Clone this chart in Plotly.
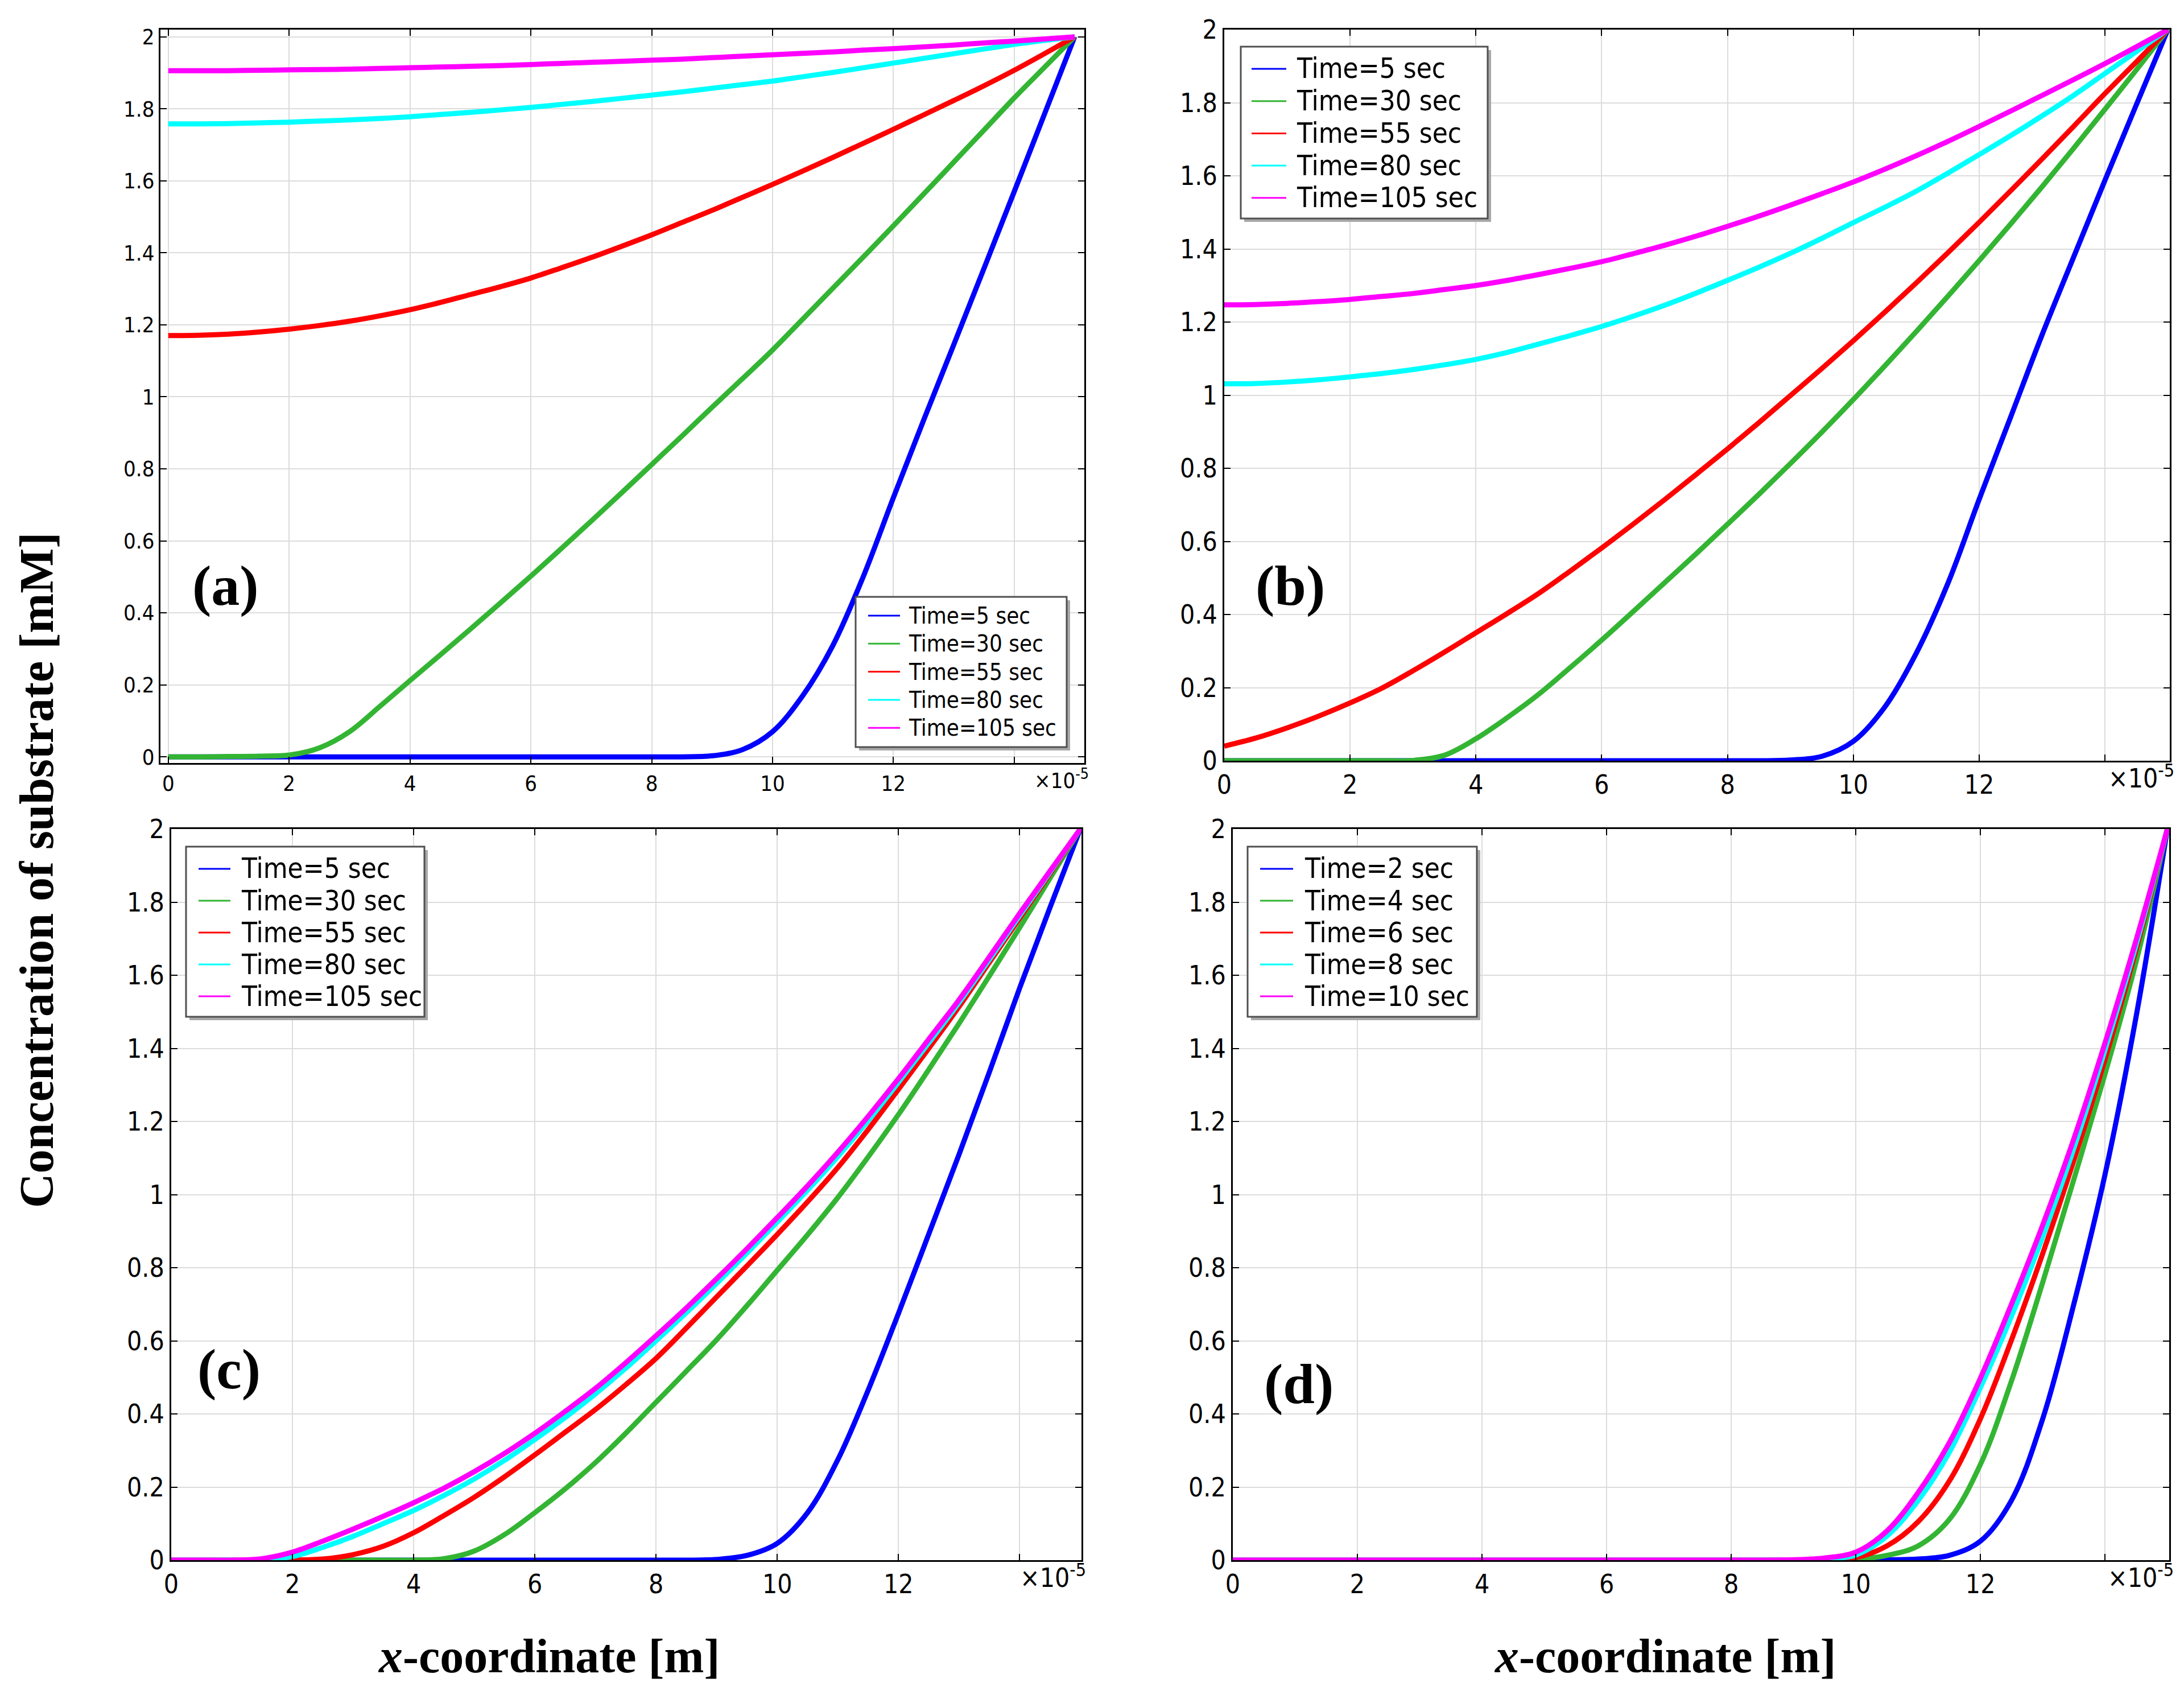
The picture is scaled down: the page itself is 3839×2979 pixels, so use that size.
import plotly.graph_objects as go

# x-coordinate in units of 1e-5 m
X = [0, 0.5, 1, 1.5, 2, 2.5, 3, 3.5, 4, 4.5, 5, 5.5, 6, 6.5, 7, 7.5,
     8, 8.5, 9, 9.5, 10, 10.5, 11, 11.5, 12, 12.5, 13, 13.5, 14, 14.5, 15]

# (a)
A_5 = [0, 0, 0, 0, 0, 0, 0, 0, 0, 0, 0, 0, 0, 0, 0, 0,
       0, 0, 0.003, 0.02, 0.07, 0.17, 0.31, 0.5, 0.72, 0.935, 1.145, 1.357, 1.57, 1.785, 2.0]
A_30 = [0, 0, 0.001, 0.002, 0.005, 0.025, 0.07, 0.14, 0.212, 0.283, 0.355, 0.428, 0.502, 0.578, 0.655, 0.733,
        0.812, 0.891, 0.971, 1.05, 1.13, 1.216, 1.302, 1.388, 1.475, 1.563, 1.652, 1.741, 1.83, 1.915, 2.0]
A_55 = [1.17, 1.171, 1.174, 1.18, 1.188, 1.198, 1.21, 1.225, 1.242, 1.262, 1.284, 1.306, 1.33, 1.358, 1.387, 1.418,
        1.45, 1.484, 1.518, 1.554, 1.59, 1.627, 1.665, 1.704, 1.743, 1.783, 1.823, 1.864, 1.907, 1.953, 2.0]
A_80 = [1.758, 1.758, 1.759, 1.761, 1.763, 1.766, 1.769, 1.773, 1.778, 1.784, 1.79, 1.797, 1.804, 1.812, 1.82, 1.829,
        1.838, 1.847, 1.857, 1.867, 1.877, 1.889, 1.901, 1.914, 1.927, 1.94, 1.953, 1.966, 1.979, 1.99, 2.0]
A_105 = [1.906, 1.906, 1.906, 1.907, 1.908, 1.909, 1.91, 1.912, 1.914, 1.916, 1.918, 1.92, 1.923, 1.926, 1.929, 1.932,
         1.935, 1.938, 1.942, 1.946, 1.95, 1.954, 1.958, 1.963, 1.967, 1.972, 1.977, 1.983, 1.988, 1.994, 2.0]

# (b)
B_5 = [0, 0, 0, 0, 0, 0, 0, 0, 0, 0, 0, 0, 0, 0, 0, 0,
       0, 0, 0.002, 0.012, 0.053, 0.147, 0.294, 0.484, 0.715, 0.94, 1.165, 1.377, 1.588, 1.795, 2.0]
B_30 = [0, 0, 0, 0, 0, 0, 0.001, 0.015, 0.06, 0.118, 0.182, 0.255, 0.33, 0.408, 0.487, 0.566,
        0.647, 0.729, 0.813, 0.899, 0.988, 1.08, 1.174, 1.27, 1.368, 1.468, 1.57, 1.675, 1.782, 1.89, 2.0]
B_55 = [0.04, 0.062, 0.09, 0.122, 0.158, 0.198, 0.246, 0.297, 0.35, 0.403, 0.458, 0.519, 0.582, 0.647, 0.714, 0.783,
        0.853, 0.925, 0.999, 1.073, 1.149, 1.227, 1.307, 1.389, 1.473, 1.559, 1.646, 1.735, 1.825, 1.912, 2.0]
B_80 = [1.031, 1.032, 1.036, 1.042, 1.05, 1.059, 1.07, 1.083, 1.098, 1.117, 1.14, 1.163, 1.188, 1.216, 1.246, 1.279,
        1.314, 1.35, 1.388, 1.429, 1.472, 1.514, 1.558, 1.607, 1.658, 1.71, 1.764, 1.82, 1.88, 1.94, 2.0]
B_105 = [1.247, 1.248, 1.251, 1.256, 1.262, 1.27, 1.278, 1.289, 1.3, 1.314, 1.33, 1.347, 1.365, 1.387, 1.41, 1.435,
         1.462, 1.49, 1.52, 1.551, 1.583, 1.618, 1.655, 1.694, 1.735, 1.777, 1.82, 1.863, 1.907, 1.953, 2.0]

# (c)
C_5 = [0, 0, 0, 0, 0, 0, 0, 0, 0, 0, 0, 0, 0, 0, 0, 0,
       0, 0, 0.002, 0.013, 0.046, 0.13, 0.275, 0.465, 0.675, 0.892, 1.11, 1.335, 1.565, 1.785, 2.0]
C_30 = [0, 0, 0, 0, 0, 0, 0, 0, 0, 0.004, 0.025, 0.07, 0.13, 0.195, 0.267, 0.347,
        0.432, 0.517, 0.603, 0.696, 0.793, 0.89, 0.992, 1.103, 1.219, 1.342, 1.468, 1.598, 1.73, 1.865, 2.0]
C_55 = [0, 0, 0, 0, 0, 0.003, 0.015, 0.038, 0.075, 0.122, 0.172, 0.228, 0.288, 0.35, 0.412, 0.48,
        0.552, 0.635, 0.72, 0.805, 0.891, 0.98, 1.074, 1.178, 1.288, 1.4, 1.514, 1.635, 1.756, 1.878, 2.0]
C_80 = [0, 0, 0, 0.001, 0.01, 0.035, 0.065, 0.1, 0.136, 0.177, 0.222, 0.273, 0.33, 0.39, 0.455, 0.525,
        0.6, 0.677, 0.757, 0.84, 0.925, 1.012, 1.104, 1.202, 1.307, 1.415, 1.525, 1.643, 1.763, 1.882, 2.0]
C_105 = [0, 0, 0, 0.004, 0.022, 0.052, 0.085, 0.12, 0.157, 0.197, 0.242, 0.292, 0.347, 0.407, 0.47, 0.54,
         0.614, 0.69, 0.77, 0.852, 0.937, 1.024, 1.116, 1.214, 1.317, 1.425, 1.533, 1.65, 1.769, 1.885, 2.0]

# (d)
D_2 = [0, 0, 0, 0, 0, 0, 0, 0, 0, 0, 0, 0, 0, 0, 0, 0,
       0, 0, 0, 0, 0, 0.001, 0.003, 0.013, 0.052, 0.164, 0.387, 0.701, 1.055, 1.488, 2.0]
D_4 = [0, 0, 0, 0, 0, 0, 0, 0, 0, 0, 0, 0, 0, 0, 0, 0,
       0, 0, 0, 0, 0.002, 0.013, 0.039, 0.111, 0.262, 0.491, 0.76, 1.042, 1.33, 1.638, 2.0]
D_6 = [0, 0, 0, 0, 0, 0, 0, 0, 0, 0, 0, 0, 0, 0, 0, 0,
       0, 0, 0, 0.001, 0.007, 0.039, 0.105, 0.216, 0.387, 0.603, 0.839, 1.094, 1.37, 1.671, 2.0]
D_8 = [0, 0, 0, 0, 0, 0, 0, 0, 0, 0, 0, 0, 0, 0, 0, 0,
       0, 0, 0, 0.003, 0.014, 0.066, 0.163, 0.295, 0.472, 0.668, 0.885, 1.127, 1.396, 1.684, 2.0]
D_10 = [0, 0, 0, 0, 0, 0, 0, 0, 0, 0, 0, 0, 0, 0, 0, 0,
        0, 0, 0.001, 0.006, 0.022, 0.08, 0.185, 0.321, 0.498, 0.701, 0.917, 1.153, 1.415, 1.697, 2.0]

NAMES_ABC = ["Time=5 sec", "Time=30 sec", "Time=55 sec", "Time=80 sec", "Time=105 sec"]
NAMES_D = ["Time=2 sec", "Time=4 sec", "Time=6 sec", "Time=8 sec", "Time=10 sec"]
COLORS = ["#0000ff", "#33b533", "#ff0000", "#00ffff", "#ff00ff"]

X_TICKS = [0, 2, 4, 6, 8, 10, 12]

W, H = 3839, 2979
OFFSET = 8  # page body margin in the browser
SANS = "DejaVu Sans Condensed, DejaVu Sans"
SERIF = "Liberation Serif, Times New Roman, serif"

# pixel layout of the four panels
# box: plot area left, right, top, bottom
# leg: legend box left, top, right, bottom, first row offset, row step, line start/end, text start, font size
panels = [
    dict(series=[A_5, A_30, A_55, A_80, A_105], names=NAMES_ABC, box=(282, 1906, 52, 1341),
         xr=[-0.13, 15.16], yr=[-0.017, 2.02], fs=38,
         leg=(1504, 1049, 1875, 1313, 33, 49.3, 22, 78, 91, 40), label="(a)", lab_xy=(396, 1030)),
    dict(series=[B_5, B_30, B_55, B_80, B_105], names=NAMES_ABC, box=(2152, 3814, 52, 1337),
         xr=[0, 15.03], yr=[0, 2], fs=46,
         leg=(2181, 82, 2615, 384, 39, 56.7, 19, 80, 96, 49), label="(b)", lab_xy=(2268, 1030)),
    dict(series=[C_5, C_30, C_55, C_80, C_105], names=NAMES_ABC, box=(301, 1901, 1457, 2742),
         xr=[0, 15.02], yr=[0, 2], fs=46,
         leg=(327, 1488, 746, 1787, 39, 56, 22, 78, 95, 49), label="(c)", lab_xy=(402, 2406)),
    dict(series=[D_2, D_4, D_6, D_8, D_10], names=NAMES_D, box=(2167, 3813, 1457, 2742),
         xr=[0, 15.03], yr=[0, 2], fs=46,
         leg=(2193, 1488, 2596, 1787, 39, 56, 22, 80, 98, 49), label="(d)", lab_xy=(2283, 2432)),
]


def px(x):
    return (x - OFFSET) / W


def py(y):
    return 1 - (y - OFFSET) / H


def main():
    fig = go.Figure()
    annotations = []
    shapes = []
    layout = dict(width=W, height=H, margin=dict(l=0, r=0, t=0, b=0, autoexpand=False),
                  paper_bgcolor="white", plot_bgcolor="white", showlegend=False)

    for i, p in enumerate(panels):
        n = "" if i == 0 else str(i + 1)
        left, right, top, bottom = p["box"]

        for ys, name, color in zip(p["series"], p["names"], COLORS):
            fig.add_trace(go.Scatter(x=X, y=ys, mode="lines", name=name,
                                     line=dict(color=color, width=9, shape="spline", smoothing=1.0),
                                     xaxis="x" + n, yaxis="y" + n))

        axis_common = dict(showline=True, linecolor="black", linewidth=3, mirror="ticks",
                           ticks="inside", ticklen=11, tickwidth=2, tickcolor="black",
                           showgrid=True, gridcolor="#dcdcdc", gridwidth=2, zeroline=False,
                           automargin=False,
                           tickfont=dict(family=SANS, size=p["fs"], color="black"))
        layout["xaxis" + n] = dict(domain=[px(left), px(right)], range=p["xr"], anchor="y" + n,
                                   tickvals=X_TICKS,
                                   minor=dict(tickvals=[14], ticks="inside", ticklen=11, tickwidth=2,
                                              tickcolor="black", showgrid=True, gridcolor="#dcdcdc",
                                              gridwidth=2),
                                   **axis_common)
        layout["yaxis" + n] = dict(domain=[py(bottom), py(top)], range=p["yr"], anchor="x" + n,
                                   dtick=0.2, tick0=0, **axis_common)

        # legend box drawn by hand (with its drop shadow)
        lx0, ly0, lx1, ly1, first, step, l0, l1, toff, lfs = p["leg"]
        shapes.append(dict(type="rect", xref="paper", yref="paper", layer="above",
                           x0=px(lx0 + 6), x1=px(lx1 + 6), y0=py(ly1 + 6), y1=py(ly0 + 6),
                           fillcolor="#a8a8a8", line=dict(width=0)))
        shapes.append(dict(type="rect", xref="paper", yref="paper", layer="above",
                           x0=px(lx0), x1=px(lx1), y0=py(ly1), y1=py(ly0),
                           fillcolor="white", line=dict(color="#505050", width=3)))
        for k, (name, color) in enumerate(zip(p["names"], COLORS)):
            yy = ly0 + first + k * step
            shapes.append(dict(type="line", xref="paper", yref="paper", layer="above",
                               x0=px(lx0 + l0), x1=px(lx0 + l1), y0=py(yy), y1=py(yy),
                               line=dict(color=color, width=3)))
            annotations.append(dict(text=name, xref="paper", yref="paper", x=px(lx0 + toff), y=py(yy),
                                    xanchor="left", yanchor="middle", showarrow=False,
                                    font=dict(family=SANS, size=lfs, color="black")))

        # x10^-5 multiplier at the end of the x axis
        annotations.append(dict(
            text="×10<sup>-5</sup>", xref="paper", yref="paper", x=px(right + 10),
            y=py(bottom + 28), xanchor="right", yanchor="middle", showarrow=False,
            font=dict(family=SANS, size=p["fs"], color="black")))
        # panel label
        cx, cy = p["lab_xy"]
        annotations.append(dict(
            text="<b>%s</b>" % p["label"], xref="paper", yref="paper", x=px(cx), y=py(cy),
            xanchor="center", yanchor="middle", showarrow=False,
            font=dict(family=SERIF, size=100, color="black")))

    # shared axis titles
    annotations.append(dict(
        text="<b>Concentration of substrate [mM]</b>", xref="paper", yref="paper",
        x=px(64), y=py(1530), textangle=-90, showarrow=False,
        xanchor="center", yanchor="middle", font=dict(family=SERIF, size=84, color="black")))
    for cx in (964, 2926):
        annotations.append(dict(
            text="<b><i>x</i>-coordinate [m]</b>", xref="paper", yref="paper",
            x=px(cx), y=py(2910), showarrow=False, xanchor="center", yanchor="middle",
            font=dict(family=SERIF, size=84, color="black")))

    layout["annotations"] = annotations
    layout["shapes"] = shapes
    fig.update_layout(**layout)
    fig.write_html("out.html")


if __name__ == '__main__':
    main()
